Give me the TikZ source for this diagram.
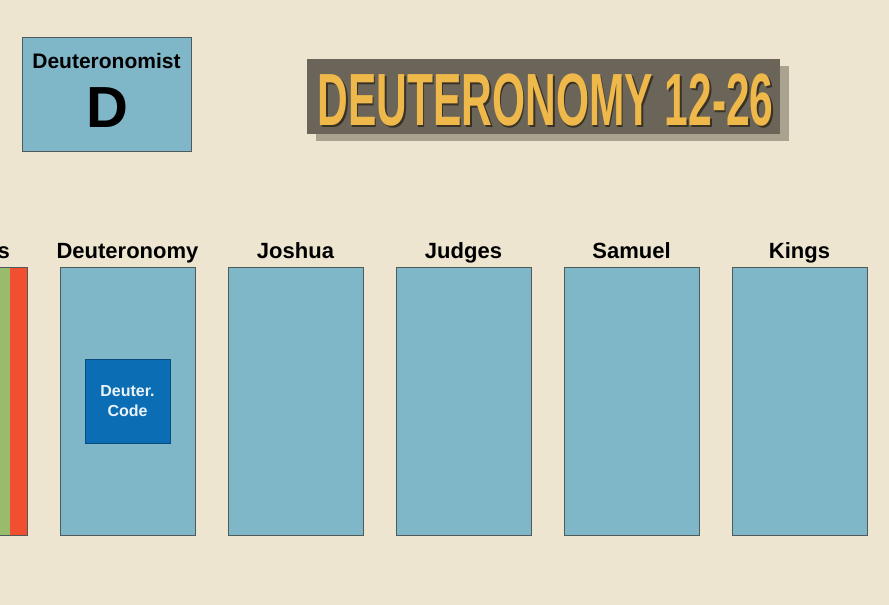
\documentclass[tikz,border=0pt]{standalone}
\usepackage{fontspec}
\setmainfont{Liberation Sans}
\usetikzlibrary{positioning}
\definecolor{paper}{HTML}{EDE5CF}
\definecolor{bookblue}{HTML}{80B7C8}
\definecolor{codeblue}{HTML}{0B6DB4}
\definecolor{edgegrey}{HTML}{4E5A5C}
\definecolor{jgreen}{HTML}{98BC6B}
\definecolor{jred}{HTML}{F04F30}
\definecolor{titlegold}{HTML}{EFB84A}
\definecolor{titledark}{HTML}{6A6459}
\definecolor{titleshade}{HTML}{A9A28F}
\definecolor{goldshadow}{HTML}{3A3225}
\tikzset{
	bookbox/.style={draw=edgegrey, fill=bookblue, line width=0.9pt,
		minimum width=135pt, minimum height=268pt, inner sep=0pt, outer sep=0pt},
	booklabel/.style={font=\fontsize{22}{24}\selectfont\bfseries, inner sep=0pt, anchor=base},
	titletext/.style={font=\fontsize{74}{80}\selectfont\bfseries, inner sep=0pt, anchor=base, xscale=0.575},
}
\newcommand{\bookcol}[3]{
	\node[bookbox] (#1) at (#2,401) {};
	\node[booklabel] (#1-lbl) at (#2,258) {#3};
}
% gold letters with a dark drop shadow
\newcommand{\shadowtext}[1]{\rlap{\kern3pt\raisebox{-2pt}{\textcolor{goldshadow}{#1}}}\textcolor{titlegold}{#1}}

\begin{document}
\begin{tikzpicture}[x=1pt,y=-1pt]
				\useasboundingbox (0,0) rectangle (889,605);
				\fill[paper] (0,0) rectangle (889,605);
				
				% source box
				\node[draw=edgegrey, fill=bookblue, line width=0.9pt, minimum width=169pt, minimum height=114pt, inner sep=0pt] (dbox) at (106.5,94) {};
				\node[booklabel, font=\fontsize{21}{24}\selectfont\bfseries] (dname) at (106.5,68) {Deuteronomist};
				\node[booklabel, font=\fontsize{58}{60}\selectfont\bfseries] (dletter) at (107,127) {D};
				
				% title
				\node[fill=titleshade, minimum width=473pt, minimum height=75pt, inner sep=0pt] (titleshadow) at (552,103.5) {};
				\node[fill=titledark, minimum width=473pt, minimum height=75pt, inner sep=0pt] (titlebox) at (543.5,96.5) {};
				\node[titletext] (title) at (545.5,125) {\shadowtext{DEUTERONOMY 12-26}};
				
				% cut-off column on the left
				\begin{scope}
				\clip (0,0) rectangle (889,605);
				\fill[jgreen] (-108,267) rectangle (10,535);
				\fill[jred] (10,267) rectangle (27,535);
				\draw[edgegrey, line width=0.9pt] (-108,267) rectangle (27,535);
				\end{scope}
				\node[booklabel, anchor=base east] (numb-lbl) at (10,258) {s};
				
				\foreach \nm/\x/\txt in {deut/127.5/Deuteronomy, josh/295.5/Joshua, judg/463.5/Judges, sam/631.5/Samuel, kgs/799.5/Kings}
				{\bookcol{\nm}{\x}{\txt}}
				
				\node[fill=codeblue, draw=codeblue!70!black, line width=0.6pt, minimum width=85pt, minimum height=84pt,
				text=white!92!codeblue, align=center, font=\fontsize{16}{20}\selectfont\bfseries] (code) at (deut) {Deuter.\\Code};
			\end{tikzpicture}
\end{document}
